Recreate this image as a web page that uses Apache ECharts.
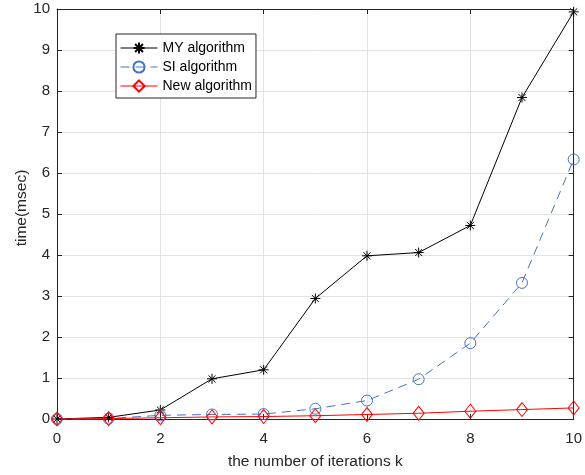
<!DOCTYPE html>
<head>
    <meta charset="utf-8">
    <title>time vs iterations</title>
    <script type="text/javascript" src="https://cdn.jsdelivr.net/npm/echarts@6/dist/echarts.min.js"></script>
    <style>
        body { margin: 0; background: #fff; }
        #chart { width: 585px; height: 475px; }
    </style>
</head>
<body>
    <div id="chart"></div>

    <script type="text/javascript">
        // x轴：迭代次数
        var iters = [0, 1, 2, 3, 4, 5, 6, 7, 8, 9, 10];
        // 各算法耗时(msec)
        var myAlg  = [0, 0.04, 0.22, 0.98, 1.2, 2.94, 3.98, 4.06, 4.72, 7.84, 9.93];
        var siAlg  = [0, 0.01, 0.09, 0.11, 0.12, 0.25, 0.45, 0.97, 1.85, 3.32, 6.33];
        var newAlg = [0, 0.01, 0.03, 0.05, 0.06, 0.08, 0.11, 0.14, 0.19, 0.23, 0.27];
        var names = ['MY algorithm', 'SI algorithm', 'New algorithm'];

        function pairs(ys) {
            var out = [];
            for (var i = 0; i < iters.length; i++) {
                out.push([iters[i], ys[i]]);
            }
            return out;
        }

        var axisColor = '#262626';
        var font = 'Liberation Sans, Arial, Helvetica, sans-serif';
        var star = 'path://M0,-10L0,10M-10,0L10,0M-7.07,-7.07L7.07,7.07M-7.07,7.07L7.07,-7.07';

        var chart = echarts.init(document.getElementById('chart'));
        chart.setOption({
            animation: false,
            grid: {
                left: 57, right: 8, top: 9, bottom: 56
            },
            legend: {
                data: names,
                orient: 'vertical',
                left: 116,
                top: 34,
                backgroundColor: '#fff',
                borderColor: axisColor,
                borderWidth: 1,
                padding: [7, 4, 5, 4],
                itemWidth: 37,
                itemHeight: 14,
                itemGap: 5,
                lineStyle: { width: 1 },
                textStyle: {
                    fontFamily: font,
                    fontSize: 14,
                    color: '#000'
                }
            },
            xAxis: [{
                type: 'value',
                min: 0, max: 10, interval: 2,
                name: 'the number of iterations k',
                nameLocation: 'middle',
                nameGap: 35,
                nameTextStyle: { fontFamily: font, fontSize: 15.5, color: axisColor },
                axisLine: { onZero: false, lineStyle: { color: axisColor } },
                axisTick: { inside: true, length: 5, lineStyle: { color: axisColor } },
                axisLabel: { fontFamily: font, fontSize: 15, color: axisColor, margin: 12 },
                splitLine: { show: true, lineStyle: { color: '#e3e3e3' } }
            }, {
                type: 'value',
                position: 'top',
                min: 0, max: 10, interval: 2,
                axisLine: { show: true, onZero: false, lineStyle: { color: axisColor } },
                axisTick: { show: true, inside: true, length: 5, lineStyle: { color: axisColor } },
                axisLabel: { show: false },
                splitLine: { show: false }
            }],
            yAxis: [{
                type: 'value',
                min: 0, max: 10, interval: 1,
                name: 'time(msec)',
                nameLocation: 'middle',
                nameGap: 27,
                nameMoveOverlap: false,
                nameTextStyle: { fontFamily: font, fontSize: 15.5, color: axisColor, padding: [0, 0, 0, 12] },
                axisLine: { show: true, onZero: false, lineStyle: { color: axisColor } },
                axisTick: { show: true, inside: true, length: 5, lineStyle: { color: axisColor } },
                axisLabel: { fontFamily: font, fontSize: 15, color: axisColor, margin: 7 },
                splitLine: { show: true, lineStyle: { color: '#e3e3e3' } }
            }, {
                type: 'value',
                position: 'right',
                min: 0, max: 10, interval: 1,
                axisLine: { show: true, onZero: false, lineStyle: { color: axisColor } },
                axisTick: { show: true, inside: true, length: 5, lineStyle: { color: axisColor } },
                axisLabel: { show: false },
                splitLine: { show: false }
            }],
            series: [
                {
                    name: names[0],
                    type: 'line',
                    data: pairs(myAlg),
                    symbol: star,
                    symbolSize: 10,
                    showAllSymbol: true,
                    clip: false,
                    lineStyle: { color: '#000', width: 1, type: 'solid' },
                    itemStyle: { color: 'transparent', borderColor: '#000', borderWidth: 1 }
                },
                {
                    name: names[1],
                    type: 'line',
                    data: pairs(siAlg),
                    symbol: 'circle',
                    symbolSize: 11,
                    showAllSymbol: true,
                    clip: false,
                    lineStyle: { color: '#4472c4', width: 1, type: [9, 6] },
                    itemStyle: { color: 'transparent', borderColor: '#4472c4', borderWidth: 1 }
                },
                {
                    name: names[2],
                    type: 'line',
                    data: pairs(newAlg),
                    symbol: 'diamond',
                    symbolSize: [11, 14],
                    showAllSymbol: true,
                    clip: false,
                    lineStyle: { color: '#ff0000', width: 1, type: 'solid' },
                    itemStyle: { color: 'transparent', borderColor: '#ff0000', borderWidth: 1 }
                }
            ]
        });
    </script>
</body>
